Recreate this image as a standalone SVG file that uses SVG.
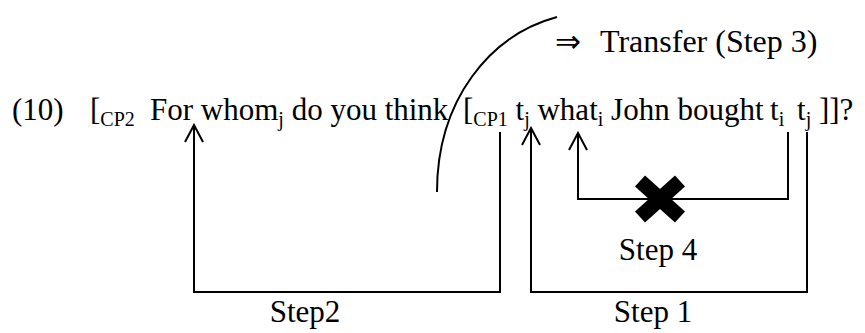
<svg xmlns="http://www.w3.org/2000/svg" width="865" height="333" viewBox="0 0 865 333">
<style>
text{font-family:"Liberation Serif","Times New Roman",serif;fill:#000}
.t{font-size:31px}
.s{font-size:20px}
.c{fill:none;stroke:#000;stroke-width:2}
</style>
<defs>
<marker id="a" viewBox="-18 -11 20 22" markerWidth="20" markerHeight="22" refX="0" refY="0" markerUnits="userSpaceOnUse" orient="auto">
<path d="M-17,-9 L0,0 L-17,9" fill="none" stroke="#000" stroke-width="2"/>
</marker>
</defs>
<rect width="865" height="333" fill="#fff"/>
<g id="sentence">
<text class="t" x="12" y="120">(10)</text>
<text class="t" y="120"><tspan x="90">[</tspan><tspan class="s" dy="6">CP2</tspan><tspan dy="-6" x="150">For whom</tspan><tspan class="s" dy="6">j</tspan><tspan dy="-6"> do you think </tspan><tspan x="463">[</tspan><tspan class="s" dy="6">CP1</tspan><tspan dy="-6"> t</tspan><tspan class="s" dy="6">j</tspan><tspan dy="-6"> what</tspan><tspan class="s" dy="6">i</tspan><tspan dy="-6"> John bought </tspan><tspan x="770">t</tspan><tspan class="s" dy="6">i</tspan><tspan dy="-6" x="797">t</tspan><tspan class="s" dy="6">j</tspan><tspan dy="-6"> ]]?</tspan></text>
</g>
<g id="transfer">
<text class="t" x="555" y="52">⇒</text>
<text x="600" y="52" style="font-size:32px">Transfer (Step 3)</text>
</g>
<g id="connectors">
<path class="c" d="M437,192 C437,100 490,35 557,17"/>
<path class="c" d="M500,132 V292 H194 V125" marker-end="url(#a)"/>
<path class="c" d="M807,132 V292 H531 V128" marker-end="url(#a)"/>
<path class="c" d="M788,132 V199 H578 V133" marker-end="url(#a)"/>
</g>
<g id="cross">
<path d="M640,181 L680,217 M680,181 L640,217" stroke="#000" stroke-width="15"/>
</g>
<g id="labels">
<text class="t" x="658" y="260" text-anchor="middle">Step 4</text>
<text class="t" x="305" y="322" text-anchor="middle">Step2</text>
<text class="t" x="653" y="322" text-anchor="middle">Step 1</text>
</g>
</svg>
